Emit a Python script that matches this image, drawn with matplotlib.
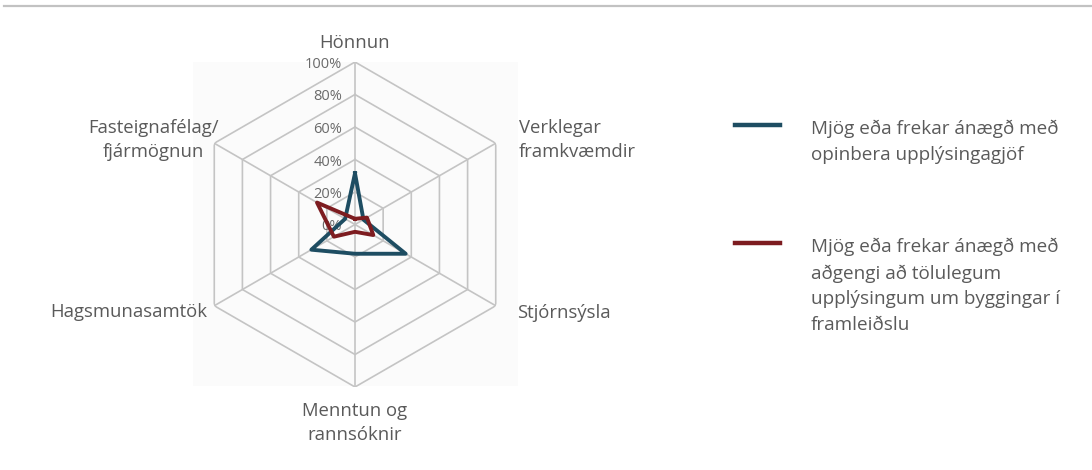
import numpy as np
import matplotlib
matplotlib.use("Agg")
import matplotlib.pyplot as plt
from matplotlib.lines import Line2D
from matplotlib.patches import Rectangle

plt.rcParams['font.family'] = ['Open Sans', 'DejaVu Sans']

categories = ["Hönnun", "Verklegar\nframkvæmdir", "Stjórnsýsla",
              "Menntun og\nrannsóknir", "Hagsmunasamtök", "Fasteignafélag/\nfjármögnun"]
opinber = [0.315, 0.06, 0.36, 0.18, 0.31, 0.07]      # Mjög eða frekar ánægð með opinbera upplýsingagjöf
tolulegar = [0.035, 0.085, 0.13, 0.045, 0.15, 0.27]  # ... aðgengi að tölulegum upplýsingum
ticks = [0, 0.2, 0.4, 0.6, 0.8, 1.0]
tick_labels = ["0%", "20%", "40%", "60%", "80%", "100%"]
legend_labels = ["Mjög eða frekar ánægð með\nopinbera upplýsingagjöf",
                 "Mjög eða frekar ánægð með\naðgengi að tölulegum\nupplýsingum um byggingar í\nframleiðslu"]

blue = "#1e4d62"
red = "#7d1c20"
grid = "#c4c4c4"
txt = "#5a5a5a"

fig = plt.figure(figsize=(10.92, 4.70), dpi=100)
W, H = 1092, 470
cx, cy, R = 355, 224.5, 162.5

# faint panel behind the radar
fig.patches.append(Rectangle((193 / W, 1 - 386 / H), 325 / W, 324 / H,
                             transform=fig.transFigure, facecolor="#fbfbfb",
                             edgecolor="none", zorder=-5))
# top rule
fig.add_artist(Line2D([4 / W, 1], [1 - 5.5 / H] * 2, color="#c2c2c2", lw=1.6))

ax = fig.add_axes([(cx - R) / W, 1 - (cy + R) / H, 2 * R / W, 2 * R / H], projection="polar")
ax.set_zorder(2)
ax.set_theta_zero_location("N")
ax.set_theta_direction(-1)
ax.set_ylim(0, 1)
ax.set_xticks([])
ax.set_yticks([])
ax.grid(False)
ax.spines["polar"].set_visible(False)
ax.patch.set_alpha(0)

n = len(categories)
angles = np.linspace(0, 2 * np.pi, n, endpoint=False)
closed = np.append(angles, angles[0])

for t in ticks[1:]:
    ax.plot(closed, [t] * (n + 1), color=grid, lw=1.2, zorder=1)
for a in angles:
    ax.plot([a, a], [0, 1], color=grid, lw=1.2, zorder=1)

for t, lab in zip(ticks, tick_labels):
    ax.annotate(lab, (0, t), xytext=(-13, -2.5), textcoords="offset pixels",
                ha="right", va="center", fontsize=10.5, color="#6a6a6a", zorder=3)

ax.plot(closed, opinber + opinber[:1], color=blue, lw=2.8, zorder=4)
ax.plot(closed, tolulegar + tolulegar[:1], color=red, lw=2.8, zorder=4)

# category label placement (pixel offsets from each outer vertex)
offsets = [(0, 10), (23, 3), (21, -7), (0, -15), (-7, -6), (4, 3)]
aligns = [("center", "bottom"), ("left", "center"), ("left", "center"),
          ("center", "top"), ("right", "center"), ("right", "center")]
for a, lab, off, (ha, va) in zip(angles, categories, offsets, aligns):
    ax.annotate(lab, (a, 1), xytext=off, textcoords="offset pixels", ha=ha, va=va,
                multialignment="center" if ha != "left" else "left",
                fontsize=13.3, color=txt, linespacing=1.46, annotation_clip=False)

# legend drawn by hand so each key sits on the first text line
for y, col, lab in [(125, blue, legend_labels[0]), (243, red, legend_labels[1])]:
    fig.add_artist(Line2D([735 / W, 780 / W], [1 - y / H] * 2, color=col, lw=3.2))
    fig.text(811 / W, 1 - (y - 5) / H, lab, ha="left", va="top", fontsize=13.6,
             color=txt, linespacing=1.54)

fig.savefig("out.png", dpi=100)
